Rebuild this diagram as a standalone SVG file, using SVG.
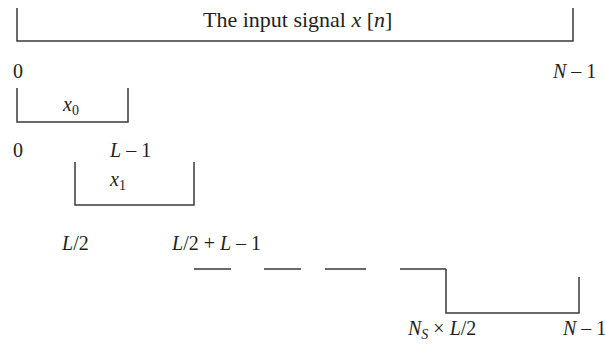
<svg xmlns="http://www.w3.org/2000/svg" width="605" height="353" viewBox="0 0 605 353">
<style>
.ln{fill:none;stroke:#3a3a3a;stroke-width:1.5}
text{font-family:"Liberation Serif","Times New Roman",serif;fill:#231f20;font-size:20px}
.t{font-size:22px}
.i{font-style:italic}
.sub{font-size:14px}
</style>
<rect width="605" height="353" fill="#fff"/>
<g id="signal">
<path class="ln" d="M17,8 V41 H573 V8"/>
<text class="t" x="203" y="27">The input signal <tspan class="i">x</tspan> [<tspan class="i">n</tspan>]</text>
<text x="13" y="78">0</text>
<text x="553" y="78"><tspan class="i">N</tspan> – 1</text>
</g>
<g id="x0">
<path class="ln" d="M17,88 V122 H128 V88"/>
<text x="63" y="111"><tspan class="i">x</tspan><tspan class="sub" dy="4">0</tspan></text>
<text x="13" y="157">0</text>
<text x="110" y="157"><tspan class="i">L</tspan> – 1</text>
</g>
<g id="x1">
<path class="ln" d="M75,162 V205 H194 V162"/>
<text x="110" y="186"><tspan class="i">x</tspan><tspan class="sub" dy="4">1</tspan></text>
<text x="62" y="250"><tspan class="i">L</tspan>/2</text>
<text x="172" y="250"><tspan class="i">L</tspan>/2 + <tspan class="i">L</tspan> – 1</text>
</g>
<g id="connectors">
<path class="ln" d="M194,269 H231 M264,269 H301 M325,269 H366 M400,269 H446"/>
</g>
<g id="xNs">
<path class="ln" d="M446,269 V313 H579 V277"/>
<text x="408" y="335"><tspan class="i">N</tspan><tspan class="sub i" dy="4">S</tspan><tspan dy="-4"> × </tspan><tspan class="i">L</tspan>/2</text>
<text x="563" y="335"><tspan class="i">N</tspan> – 1</text>
</g>
</svg>
